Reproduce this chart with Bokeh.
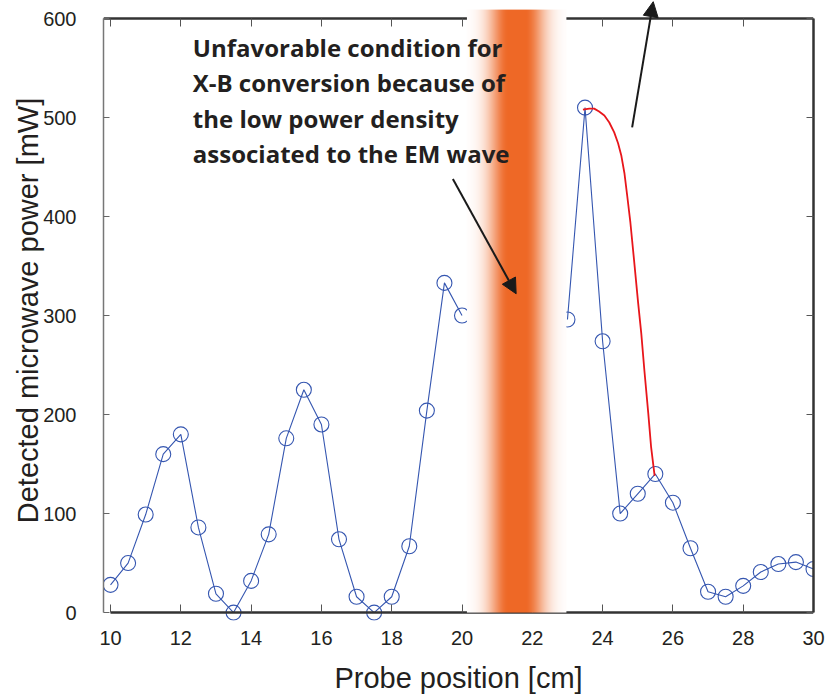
import numpy as np
from bokeh.plotting import figure
from bokeh.models import LinearAxis, Range1d, Arrow, NormalHead, FixedTicker
from bokeh.core.properties import value
from bokeh.embed import file_html
from bokeh.resources import INLINE

# ---- data ----
nan = float("nan")
position_cm = [10, 10.5, 11, 11.5, 12, 12.5, 13, 13.5, 14, 14.5, 15, 15.5, 16, 16.5,
               17, 17.5, 18, 18.5, 19, 19.5, 20, 20.5, 21, 21.5, 22, 22.5, 23, 23.5,
               24, 24.5, 25, 25.5, 26, 26.5, 27, 27.5, 28, 28.5, 29, 29.5, 30]
power_mw = [28, 50, 99, 160, 180, 86, 19, 0, 32, 79, 176, 225, 190, 74,
            16, 0, 16, 67, 204, 333, 300, nan, nan, nan, nan, nan, 296, 510,
            274, 100, 120, 140, 111, 65, 21, 16, 27, 41, 49, 51, 44]

fit_x = [23.44, 23.62, 23.76, 23.90, 24.05, 24.19, 24.33, 24.44, 24.53, 24.62,
         24.70, 24.79, 24.90, 25.01, 25.10, 25.19, 25.30, 25.38, 25.48]
fit_y = [508, 509, 509, 506, 502, 495, 485, 474, 462, 444,
         421, 394, 354, 313, 282, 244, 201, 167, 138]

x_ticks = [10, 12, 14, 16, 18, 20, 22, 24, 26, 28, 30]
y_ticks = [0, 100, 200, 300, 400, 500, 600]

note_lines = ["Unfavorable condition for",
              "X-B conversion because of",
              "the low power density",
              "associated to the EM wave"]

# highlighted band (cm)
band_left, band_right = 20.14, 22.97

BLUE = "#3556B0"
TXT = "#231f20"
FONT = "Liberation Sans"

p = figure(width=827, height=696, x_range=Range1d(9.8, 30), y_range=Range1d(-8, 618.2),
           output_backend="svg", toolbar_location=None,
           min_border_left=103, min_border_right=14, min_border_top=0, min_border_bottom=76)
p.outline_line_color = None
p.xgrid.visible = False
p.ygrid.visible = False
p.background_fill_color = "white"
p.border_fill_color = "white"

# bottom axis: labels only (at frame bottom)
xa = p.xaxis[0]
xa.ticker = FixedTicker(ticks=x_ticks)
xa.axis_line_color = None
xa.major_tick_line_color = None
xa.minor_tick_line_color = None
xa.major_tick_in = 0
xa.major_tick_out = 0
xa.major_label_standoff = 10
xa.major_label_text_font = FONT
xa.major_label_text_font_size = "20px"
xa.major_label_text_color = TXT
xa.axis_label = "Probe position [cm]"
xa.axis_label_text_font = FONT
xa.axis_label_text_font_size = "29px"
xa.axis_label_text_font_style = "normal"
xa.axis_label_text_color = TXT
xa.axis_label_standoff = 14

# bottom axis line and ticks at y = 0 (no labels)
tick_only = dict(major_tick_out=0, minor_tick_line_color=None,
                 major_label_text_color=None, major_label_text_font_size="0px",
                 major_label_standoff=0, axis_line_color="#333333", axis_line_width=2.5,
                 major_tick_line_color="#555555")
x0 = LinearAxis(ticker=FixedTicker(ticks=x_ticks), fixed_location=0, bounds=(10, 30),
                major_tick_in=8, **tick_only)
p.add_layout(x0, "below")

# left axis
ya = p.yaxis[0]
ya.ticker = FixedTicker(ticks=y_ticks)
ya.bounds = (0, 600)
ya.axis_line_color = "#777777"
ya.axis_line_width = 1.5
ya.major_tick_in = 6
ya.major_tick_out = 0
ya.major_tick_line_color = "#666666"
ya.minor_tick_line_color = None
ya.major_label_standoff = 27
ya.major_label_text_font = FONT
ya.major_label_text_font_size = "20px"
ya.major_label_text_color = TXT
ya.axis_label = "Detected microwave power [mW]"
ya.axis_label_text_font = FONT
ya.axis_label_text_font_size = "29px"
ya.axis_label_text_font_style = "normal"
ya.axis_label_text_color = TXT
ya.axis_label_standoff = -4

# top and right frame axes (ticks only)
top = LinearAxis(ticker=FixedTicker(ticks=x_ticks), fixed_location=600,
                 major_tick_in=8, **tick_only)
p.add_layout(top, "above")
right = LinearAxis(ticker=FixedTicker(ticks=y_ticks), bounds=(0, 600),
                   major_tick_in=7, **tick_only)
p.add_layout(right, "right")

# data
p.line(position_cm, power_mw, line_color=BLUE, line_width=1.1)
p.scatter(position_cm, power_mw, marker="circle", size=15, fill_color=None,
          line_color=BLUE, line_width=1.1)
p.line(fit_x, fit_y, line_color="#E8161B", line_width=1.8)

# orange gradient band
n = 200
px = np.linspace(-1, 1, n) * 50.0  # pixels from band centre
core, sig = 8.0, 20.0
d = np.clip(np.abs(px) - core, 0, None)
t = np.exp(-(d / sig) ** 2)
orange = np.array([238, 104, 38], dtype=float)
white = np.array([255, 255, 255], dtype=float)
cols = (white[None, :] * (1 - t[:, None]) + orange[None, :] * t[:, None]).round().astype(np.uint8)
img = np.zeros((1, n), dtype=np.uint32)
view = img.view(dtype=np.uint8).reshape((1, n, 4))
view[0, :, 0] = cols[:, 0]
view[0, :, 1] = cols[:, 1]
view[0, :, 2] = cols[:, 2]
view[0, :, 3] = 255
p.image_rgba(image=[img], x=band_left, y=0, dw=band_right - band_left, dh=609, level="annotation")

# annotation text
p.text(x=[12.34] * 4, y=[571, 535, 499, 464], text=note_lines,
       text_font=value("Open Sans"), text_font_style="bold", text_font_size="24px",
       text_color=TXT, text_baseline="middle", text_align="left", level="overlay")

a1 = Arrow(end=NormalHead(size=15, fill_color="#1a1a1a", line_color="#1a1a1a"),
           x_start=19.74, y_start=438, x_end=21.54, y_end=322,
           line_color="#1a1a1a", line_width=2, level="overlay")
a2 = Arrow(end=NormalHead(size=15, fill_color="#1a1a1a", line_color="#1a1a1a"),
           x_start=24.84, y_start=490, x_end=25.44, y_end=617,
           line_color="#1a1a1a", line_width=2, level="overlay")
p.add_layout(a1)
p.add_layout(a2)

open("out.html", "w").write(file_html(p, INLINE))
